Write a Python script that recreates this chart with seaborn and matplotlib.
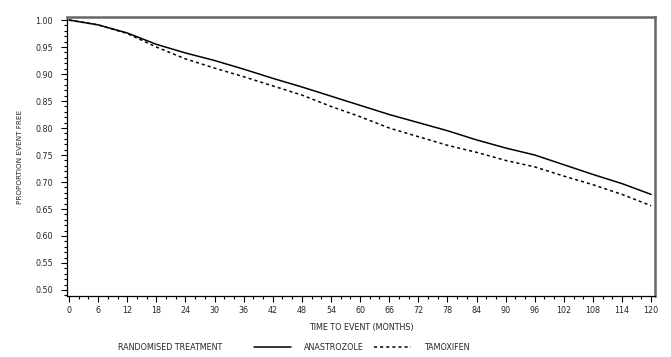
import numpy as np
import pandas as pd
import matplotlib
matplotlib.use("Agg")
import matplotlib.pyplot as plt
import seaborn as sns
from matplotlib.ticker import MultipleLocator, FormatStrFormatter

# values (every 6 months)
months = [0, 6, 12, 18, 24, 30, 36, 42, 48, 54, 60, 66, 72, 78, 84, 90, 96, 102, 108, 114, 120]
anastrozole = [1.000, 0.991, 0.976, 0.955, 0.939, 0.925, 0.909, 0.892, 0.876, 0.859, 0.842, 0.825,
               0.810, 0.795, 0.778, 0.763, 0.750, 0.732, 0.714, 0.697, 0.677]
tamoxifen = [1.000, 0.991, 0.975, 0.950, 0.928, 0.911, 0.895, 0.878, 0.861, 0.840, 0.821, 0.800,
             0.784, 0.768, 0.755, 0.740, 0.728, 0.711, 0.695, 0.677, 0.656]
treatments = ["ANASTROZOLE", "TAMOXIFEN"]

df = pd.DataFrame({
    "month": months + months,
    "prop": anastrozole + tamoxifen,
    "treatment": [treatments[0]] * len(months) + [treatments[1]] * len(months),
})

sns.set_style("ticks")
plt.rcParams["font.family"] = ["DejaVu Sans"]

fig = plt.figure(figsize=(6.71, 3.57), dpi=100)
ax = fig.add_axes([0.0999, 0.1709, 0.8763, 0.7815])

sns.lineplot(data=df, x="month", y="prop", style="treatment",
             dashes={treatments[0]: "", treatments[1]: (2, 2)},
             color="black", linewidth=1.1, ax=ax, legend=False)

ax.set_xlim(-0.41, 120.8)
ax.set_ylim(0.4889, 1.0056)
ax.xaxis.set_major_locator(MultipleLocator(6))
ax.xaxis.set_minor_locator(MultipleLocator(2))
ax.yaxis.set_major_locator(MultipleLocator(0.05))
ax.yaxis.set_minor_locator(MultipleLocator(0.01))
ax.yaxis.set_major_formatter(FormatStrFormatter("%.2f"))
ax.tick_params(which="major", length=4, width=0.8, labelsize=5.8, color="black")
ax.tick_params(axis="y", which="major", pad=6)
ax.tick_params(axis="x", which="major", pad=3)
ax.tick_params(which="minor", length=2.5, width=0.8, color="black")

for s in ["left", "bottom"]:
    ax.spines[s].set_color("black")
    ax.spines[s].set_linewidth(0.9)
for s in ["top", "right"]:
    ax.spines[s].set_color("#666666")
    ax.spines[s].set_linewidth(1.8)

ax.set_xlabel("TIME TO EVENT (MONTHS)", fontsize=5.8, labelpad=6)
ax.set_ylabel("PROPORTION EVENT FREE", fontsize=5.2, labelpad=9)

# legend row under the chart
fig.text(118 / 671, 1 - 347 / 357, "RANDOMISED TREATMENT", fontsize=5.8, va="center", ha="left")
handles = [plt.Line2D([], [], color="black", linewidth=1.1),
           plt.Line2D([], [], color="black", linewidth=1.1, dashes=(2, 2))]
fig.legend(handles, treatments, ncol=2, frameon=False, fontsize=5.8,
           loc="center left", bbox_to_anchor=(250 / 671, 1 - 347 / 357),
           handlelength=4.6, handletextpad=1.6, columnspacing=1.3, borderpad=0)

fig.savefig("out.png", dpi=100, facecolor="white")
